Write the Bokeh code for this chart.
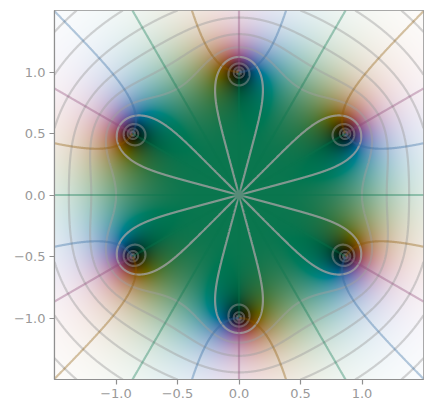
import numpy as np
from bokeh.plotting import figure
from bokeh.models import FixedTicker, Range1d
from bokeh.embed import file_html
from bokeh.resources import INLINE

# values: zeros lie on the unit circle, 60 degrees apart
zero_radius = [1.0, 1.0, 1.0, 1.0, 1.0, 1.0]
zero_angle_deg = [90, 30, -30, -90, -150, 150]
abs_levels = [-4, -3, -2, -1, 1, 2, 3, 4, 5, 6, 7]   # log2 |f|
unit_level = [0]
tick_values = [-1.0, -0.5, 0.0, 0.5, 1.0]
tick_labels = ["\u22121.0", "\u22120.5", "0.0", "0.5", "1.0"]
x_limits = (-1.5, 1.5)
y_limits = (-1.5, 1.5)
TEXT = "#999999"
SPINE = "#8f8f8f"

def field(n):
    xs = np.linspace(x_limits[0], x_limits[1], n)
    ys = np.linspace(y_limits[0], y_limits[1], n)
    X, Y = np.meshgrid(xs, ys)
    Z = X + 1j * Y
    F = np.ones_like(Z)
    for r, d in zip(zero_radius, zero_angle_deg):
        F = F * (Z - r * np.exp(1j * np.deg2rad(d)))
    return xs, ys, F

def oklab_rgb(L, a, b):
    l = L + 0.3963377774 * a + 0.2158037573 * b
    m = L - 0.1055613458 * a - 0.0638541728 * b
    s = L - 0.0894841775 * a - 1.2914855480 * b
    l, m, s = l**3, m**3, s**3
    r = 4.0767416621 * l - 3.3077115913 * m + 0.2309699292 * s
    g = -1.2684380046 * l + 2.6097574011 * m - 0.3413193965 * s
    bb = -0.0041960863 * l - 0.7034186147 * m + 1.7076147010 * s
    rgb = np.clip(np.stack([r, g, bb], -1), 0, 1)
    return np.where(rgb <= 0.0031308, 12.92 * rgb, 1.055 * rgb ** (1 / 2.4) - 0.055)

def domain_colour(F):
    mag = np.abs(F)
    L = mag / (mag + 1)
    r0 = 0.08499547839164734 * 1.28
    rd = r0 - r0 * 2 * np.abs(L - 0.5)
    ang = np.angle(F) + 0.8936868 * np.pi
    return oklab_rgb(L, rd * np.cos(ang), rd * np.sin(ang))

def hexcol(angle):
    c = domain_colour(np.array([np.exp(1j * angle)]))[0]
    return "#%02x%02x%02x" % tuple(int(round(v * 255)) for v in c)

p = figure(width=424, height=405, output_backend="svg", toolbar_location=None,
           x_range=Range1d(*x_limits), y_range=Range1d(*y_limits),
           min_border_left=54, min_border_right=1, min_border_top=10, min_border_bottom=26)
p.grid.visible = False
p.outline_line_color = SPINE
p.outline_line_width = 1.2

xs, ys, F = field(369)
rgb = domain_colour(F)
img = np.empty(F.shape, dtype=np.uint32)
view = img.view(dtype=np.uint8).reshape((*F.shape, 4))
view[..., :3] = np.round(rgb * 255).astype(np.uint8)
view[..., 3] = 255
p.image_rgba(image=[img], x=x_limits[0], y=y_limits[0],
             dw=x_limits[1] - x_limits[0], dh=y_limits[1] - y_limits[0])

xc, yc, Fc = field(1400)
logabs = np.log2(np.maximum(np.abs(Fc), 1e-12))
p.contour(xc, yc, logabs, abs_levels, line_color="#a0a0a0", line_alpha=0.45, line_width=2.2)
p.contour(xc, yc, logabs, unit_level, line_color="#a0a0a0", line_alpha=0.8, line_width=2.2)

# phase contours: 0 and pi on Im f = 0, +-pi/2 on Re f = 0
for comp, keep, angle in [
    (Fc.imag, Fc.real > 0, 0.0),
    (Fc.imag, Fc.real < 0, np.pi),
    (Fc.real, Fc.imag > 0, np.pi / 2),
    (Fc.real, Fc.imag < 0, -np.pi / 2),
]:
    masked = np.ma.masked_where(~keep, comp)
    p.contour(xc, yc, masked, [0.0], line_color=hexcol(angle), line_alpha=0.35, line_width=2.2)

for ax in (p.xaxis[0], p.yaxis[0]):
    ax.ticker = FixedTicker(ticks=tick_values)
    ax.major_label_overrides = dict(zip(tick_values, tick_labels))
    ax.major_label_text_color = TEXT
    ax.major_label_text_font = "DejaVu Sans"
    ax.major_label_text_font_size = "13px"
    ax.axis_line_color = SPINE
    ax.axis_line_width = 1.2
    ax.major_tick_line_color = SPINE
    ax.major_tick_line_width = 1.2
    ax.major_tick_in = 0
    ax.major_tick_out = 5
    ax.minor_tick_line_color = None
    ax.major_label_standoff = 4

open("out.html", "w").write(file_html(p, INLINE))
